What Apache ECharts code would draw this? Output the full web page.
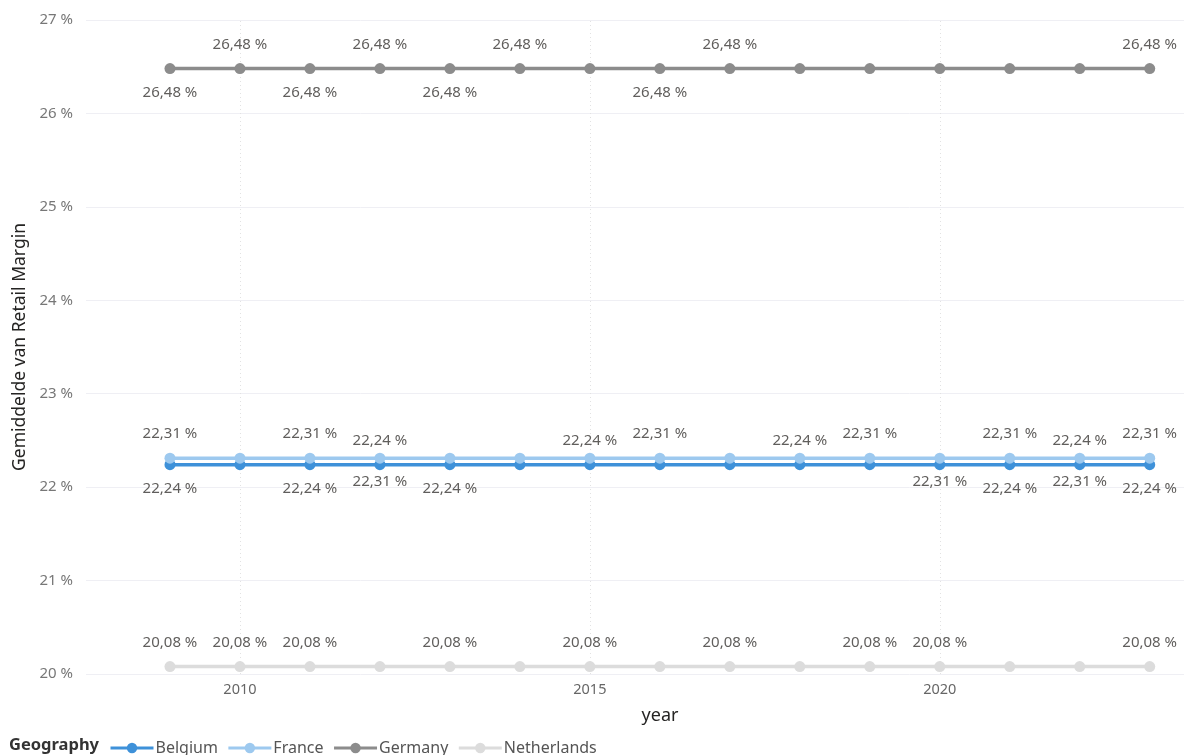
<!DOCTYPE html>
<html>
<head>
<meta charset="utf-8">
<script src="https://cdn.jsdelivr.net/npm/echarts@6/dist/echarts.min.js"></script>
<style>
html,body{margin:0;padding:0;background:#fff;}
#main{width:1184px;height:755px;}
</style>
</head>
<body>
<div id="main"></div>
<script>
// ---- data ----
const years = [2009,2010,2011,2012,2013,2014,2015,2016,2017,2018,2019,2020,2021,2022,2023];
const belgium     = [22.24,22.24,22.24,22.24,22.24,22.24,22.24,22.24,22.24,22.24,22.24,22.24,22.24,22.24,22.24];
const france      = [22.31,22.31,22.31,22.31,22.31,22.31,22.31,22.31,22.31,22.31,22.31,22.31,22.31,22.31,22.31];
const germany     = [26.48,26.48,26.48,26.48,26.48,26.48,26.48,26.48,26.48,26.48,26.48,26.48,26.48,26.48,26.48];
const netherlands = [20.08,20.08,20.08,20.08,20.08,20.08,20.08,20.08,20.08,20.08,20.08,20.08,20.08,20.08,20.08];
const xTickLabels = [2010, 2015, 2020];
const yTicks = [20,21,22,23,24,25,26,27];

// ---- label placement (styling) ----
const T='top', B='bottom', N=null;
const belgiumPos     = [B,N,B,T,B,N,T,N,N,T,N,N,B,T,B];
const francePos      = [T,N,T,B,N,N,N,T,N,N,T,B,T,B,T];
const germanyPos     = [B,T,B,T,B,T,N,B,T,N,N,N,N,N,T];
const netherlandsPos = [T,T,T,N,T,N,T,N,T,N,T,T,N,N,T];

const fmt = v => v.toFixed(2).replace('.', ',') + ' %';
const FONT = "'Noto Sans', 'Open Sans', sans-serif";

function build(name, vals, pos, color) {
  return {
    name: name,
    type: 'line',
    data: years.map((y, i) => ({
      value: [y, vals[i]],
      label: pos[i] ? {show: true, position: pos[i]} : {show: false}
    })),
    symbol: 'circle',
    symbolSize: 11,
    itemStyle: {color: color},
    lineStyle: {color: color, width: 3.5},
    label: {
      distance: 11,
      color: '#605E5C',
      fontSize: 15,
      fontFamily: FONT,
      formatter: p => fmt(p.value[1])
    },
    emphasis: {disabled: true},
    z: 3
  };
}

const series = [
  build('Belgium', belgium, belgiumPos, '#3E91D9'),
  build('France', france, francePos, '#9DC9EF'),
  build('Germany', germany, germanyPos, '#8C8C8C'),
  build('Netherlands', netherlands, netherlandsPos, '#DCDCDC')
];
series[0].markLine = {
  silent: true,
  symbol: 'none',
  label: {show: false},
  lineStyle: {type: [1, 3], color: '#E2E2E2', width: 1},
  data: xTickLabels.map(v => ({xAxis: v})),
  z: 1
};

const chart = echarts.init(document.getElementById('main'));
chart.setOption({
  backgroundColor: '#ffffff',
  animation: false,
  grid: {left: 86, right: 0, top: 20, bottom: 81, containLabel: false},
  xAxis: {
    type: 'value',
    min: 2007.8,
    max: 2023.49,
    name: 'year',
    nameLocation: 'middle',
    nameGap: 33,
    nameTextStyle: {color: '#252423', fontSize: 18, fontFamily: FONT, padding: [0,0,0,50]},
    axisLine: {show: false},
    axisTick: {show: false},
    splitLine: {show: false},
    axisLabel: {
      customValues: xTickLabels,
      color: '#666666', fontSize: 14.5, fontFamily: FONT, margin: 8,
      formatter: v => String(v)
    }
  },
  yAxis: {
    type: 'value',
    min: 20, max: 27, interval: 1,
    name: 'Gemiddelde van Retail Margin',
    nameLocation: 'middle',
    nameGap: 56,
    nameTextStyle: {color: '#252423', fontSize: 17.5, fontFamily: FONT},
    axisLine: {show: false},
    axisTick: {show: false},
    splitLine: {lineStyle: {color: '#EFEFF4', width: 1}},
    axisLabel: {
      color: '#777777', fontSize: 15, fontFamily: FONT, margin: 13,
      formatter: v => yTicks.includes(v) ? v + ' %' : ''
    }
  },
  legend: {
    left: 104, top: 735,
    itemWidth: 43, itemHeight: 13, itemGap: 9,
    lineStyle: {width: 3},
    textStyle: {color: '#555555', fontSize: 16, fontFamily: FONT, padding: [0,0,0,-3]},
    data: ['Belgium','France','Germany','Netherlands']
  },
  graphic: [{
    type: 'text', left: 9, top: 737,
    style: {text: 'Geography', fill: '#333333', font: "bold 16.5px 'Noto Sans', sans-serif"}
  }],
  series: series
});
</script>
</body>
</html>
